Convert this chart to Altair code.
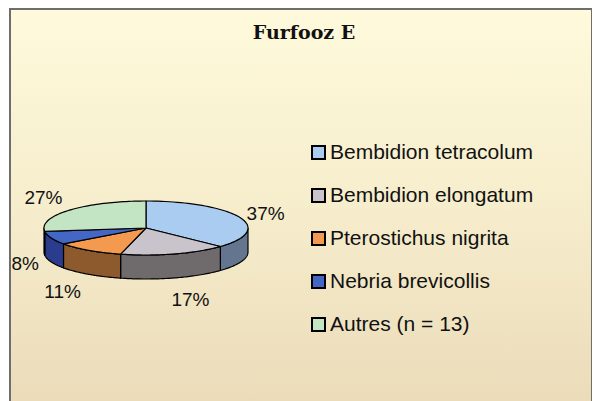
import altair as alt
import pandas as pd

# ---- data ----
species = ["Bembidion tetracolum", "Bembidion elongatum", "Pterostichus nigrita",
           "Nebria brevicollis", "Autres (n = 13)"]
percents = [37, 17, 11, 8, 27]
title_text = "Furfooz E"

# ---- styles ----
top_colors = ["#A9CCF0", "#C9C3CB", "#F49A50", "#4466C4", "#C3E5C3"]
side_colors = ["#63758F", "#6F6B6D", "#8C5A2C", "#2B3C8E", "#7FA07F"]

CX, CY, RX, RY, DEPTH = 146, 228, 102, 27, 24   # pie geometry (page pixels)
N = 60

df = pd.DataFrame({"species": species, "pct": percents,
                   "idx": list(range(len(species)))})

X = alt.X("px:Q", scale=alt.Scale(domain=[8, 592], nice=False, zero=False), axis=None)
Y = alt.Y("py:Q", scale=alt.Scale(domain=[8, 401], nice=False, zero=False, reverse=True), axis=None)

base = alt.Chart(df).transform_window(
    cum="sum(pct)", sort=[alt.SortField("idx")], frame=[None, 0]
).transform_joinaggregate(total="sum(pct)").transform_calculate(
    a0="2*PI*(datum.cum - datum.pct)/datum.total",
    a1="2*PI*datum.cum/datum.total",
)

# side (visible front half of the cylinder)
side = base.transform_calculate(
    s0="max(datum.a0, PI/2)", s1="min(datum.a1, 3*PI/2)"
).transform_filter("datum.s1 > datum.s0").transform_calculate(
    k=f"sequence(0, {2*N+3})"
).transform_flatten(["k"]).transform_calculate(
    bottom=f"datum.k > {N} && datum.k <= {2*N+1} ? 1 : 0",
    t=f"datum.k <= {N} ? datum.k / {N} : (datum.k <= {2*N+1} ? ({2*N+1} - datum.k) / {N} : 0)",
    ang="datum.s0 + (datum.s1 - datum.s0) * datum.t",
    px=f"{CX} + {RX} * sin(datum.ang)",
    py=f"{CY} - {RY} * cos(datum.ang) + datum.bottom * {DEPTH}",
).mark_line(filled=True, stroke="black", strokeWidth=1.2, strokeJoin="round").encode(
    x=X, y=Y, order="k:Q", detail="species:N",
    color=alt.Color("species:N", scale=alt.Scale(domain=species, range=side_colors), legend=None),
)

# top faces
top = base.transform_calculate(
    k=f"sequence(0, {N+3})"
).transform_flatten(["k"]).transform_calculate(
    edge=f"datum.k >= 1 && datum.k <= {N+1} ? 1 : 0",
    ang=f"datum.a0 + (datum.a1 - datum.a0) * clamp(datum.k - 1, 0, {N}) / {N}",
    px=f"{CX} + datum.edge * {RX} * sin(datum.ang)",
    py=f"{CY} - datum.edge * {RY} * cos(datum.ang)",
).mark_line(filled=True, stroke="black", strokeWidth=1.2, strokeJoin="round").encode(
    x=X, y=Y, order="k:Q", detail="species:N",
    color=alt.Color("species:N", scale=alt.Scale(domain=species, range=top_colors),
                    legend=alt.Legend(title=None, orient="none", legendX=300, legendY=134,
                                      symbolType="square", symbolSize=169,
                                      symbolStrokeColor="black", symbolStrokeWidth=2,
                                      symbolOpacity=1,
                                      labelFont="Liberation Sans", labelFontSize=21,
                                      labelColor="#111111", rowPadding=21, labelOffset=1,
                                      labelLimit=0)),
)

# percentage labels, placed just outside the rim at each slice's mid angle
labels = base.transform_calculate(
    mid="(datum.a0 + datum.a1)/2",
    s="sin(datum.mid)", c="cos(datum.mid)",
    px=f"{CX} + {RX}*datum.s + 26*clamp(2.2*datum.s, -1, 1)",
    py=(f"{CY} - {RY}*datum.c + (datum.c < 0 ? {DEPTH} : 0)"
        " - 22*(datum.c > 0 ? 1 : -1)*clamp(abs(datum.c)*1.6 - 0.5, 0, 1)"),
    lab="datum.pct + '%'",
).mark_text(font="Liberation Sans", fontSize=19, color="#111111").encode(
    x=X, y=Y, text="lab:N")

gradient = alt.Gradient(
    gradient="linear",
    stops=[alt.GradientStop(color="#FEFADB", offset=0),
           alt.GradientStop(color="#F6EDCC", offset=0.5),
           alt.GradientStop(color="#EBDBB9", offset=1)],
    x1=0, x2=0, y1=0, y2=1,
)
bg = alt.Chart(pd.DataFrame({"t": [0]})).mark_rect(
    fill=gradient, stroke="#6E6E6E", strokeWidth=2
).encode(x=alt.value(2), x2=alt.value(584), y=alt.value(1), y2=alt.value(398))

title = alt.Chart(pd.DataFrame({"t": [title_text]})).mark_text(
    font="DejaVu Serif", fontSize=19, fontWeight="bold", color="#111111"
).encode(x=alt.value(296), y=alt.value(25), text="t:N")

chart = alt.layer(bg, side, top, labels, title).resolve_scale(
    color="independent"
).properties(
    width=584, height=393, padding=0, autosize=alt.AutoSizeParams(type="none")
).configure_view(strokeWidth=0)

chart.save("out.html", embed_options={"renderer": "svg", "actions": False})
